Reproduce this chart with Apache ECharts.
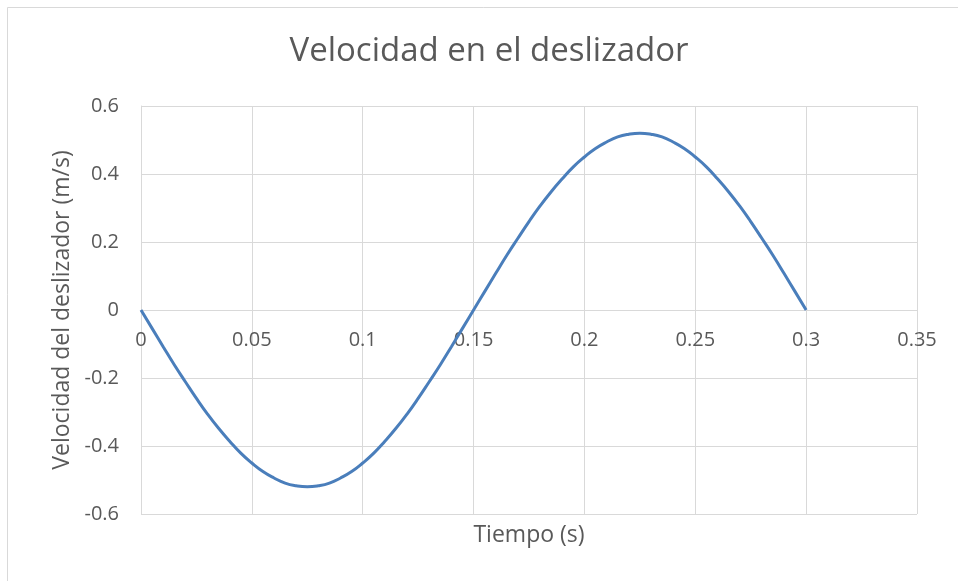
<!DOCTYPE html>
<html>
<head>
<meta charset="utf-8">
<script src="https://cdn.jsdelivr.net/npm/echarts@6/dist/echarts.min.js"></script>
<style>
  html, body { margin: 0; padding: 0; background: #fff; }
  #chart { width: 958px; height: 581px; }
</style>
</head>
<body>
<div id="chart"></div>
<script>
// Time samples (s)
const tiempo = [
  0, 0.005, 0.01, 0.015, 0.02, 0.025, 0.03, 0.035, 0.04, 0.045, 0.05, 0.055, 0.06, 0.065, 0.07, 0.075,
  0.08, 0.085, 0.09, 0.095, 0.10, 0.105, 0.11, 0.115, 0.12, 0.125, 0.13, 0.135, 0.14, 0.145, 0.15,
  0.155, 0.16, 0.165, 0.17, 0.175, 0.18, 0.185, 0.19, 0.195, 0.20, 0.205, 0.21, 0.215, 0.22, 0.225,
  0.23, 0.235, 0.24, 0.245, 0.25, 0.255, 0.26, 0.265, 0.27, 0.275, 0.28, 0.285, 0.29, 0.295, 0.30
];
// Slider velocity (m/s)
const velocidad = [
  0, -0.054, -0.108, -0.161, -0.211, -0.26, -0.306, -0.348, -0.386, -0.421, -0.45, -0.475, -0.494, -0.509, -0.517, -0.52,
  -0.517, -0.509, -0.494, -0.475, -0.45, -0.421, -0.386, -0.348, -0.306, -0.26, -0.211, -0.161, -0.108, -0.054, 0,
  0.054, 0.108, 0.161, 0.211, 0.26, 0.306, 0.348, 0.386, 0.421, 0.45, 0.475, 0.494, 0.509, 0.517, 0.52,
  0.517, 0.509, 0.494, 0.475, 0.45, 0.421, 0.386, 0.348, 0.306, 0.26, 0.211, 0.161, 0.108, 0.054, 0
];

const xTicks = { min: 0, max: 0.35, interval: 0.05 };
const yTicks = { min: -0.6, max: 0.6, interval: 0.2 };

const titulo = 'Velocidad en el deslizador';
const nombreX = 'Tiempo (s)';
const nombreY = 'Velocidad del deslizador (m/s)';

const FONT = '"Open Sans", sans-serif';
const TEXT = '#595959';
const GRID = '#d9d9d9';

const GRID_TOP = 106, GRID_BOTTOM = 67, CHART_H = 581;

const chart = echarts.init(document.getElementById('chart'), null, { renderer: 'canvas' });

// distance (px) from the bottom of the plot up to the y = 0 line
const plotH = CHART_H - GRID_TOP - GRID_BOTTOM;
const zeroLift = plotH * (0 - yTicks.min) / (yTicks.max - yTicks.min);

chart.setOption({
  backgroundColor: '#ffffff',
  animation: false,
  graphic: [
    { type: 'rect', silent: true, z: -10,
      shape: { x: 7.5, y: 7.5, width: 1000, height: 1000 },
      style: { fill: 'none', stroke: GRID, lineWidth: 1 } },
    { type: 'text', silent: true, x: 489, y: 52,
      style: { text: titulo, fontFamily: FONT, fontSize: 33, fill: TEXT,
               align: 'center', verticalAlign: 'middle' } },
    { type: 'text', silent: true, x: 529, y: 535,
      style: { text: nombreX, fontFamily: FONT, fontSize: 23, fill: TEXT,
               align: 'center', verticalAlign: 'middle' } },
    { type: 'text', silent: true, x: 62, y: 310, rotation: Math.PI / 2,
      style: { text: nombreY, fontFamily: FONT, fontSize: 23, fill: TEXT,
               align: 'center', verticalAlign: 'middle' } }
  ],
  grid: { left: 141, right: 41, top: GRID_TOP, bottom: GRID_BOTTOM, containLabel: false },
  xAxis: {
    type: 'value',
    min: xTicks.min, max: xTicks.max, interval: xTicks.interval,
    position: 'bottom',
    offset: -zeroLift,
    axisLine: { show: true, onZero: false, lineStyle: { color: GRID, width: 1 } },
    axisTick: { show: false },
    axisLabel: { color: TEXT, fontFamily: FONT, fontSize: 20, margin: 20 },
    splitLine: { show: true, lineStyle: { color: GRID, width: 1 } }
  },
  yAxis: {
    type: 'value',
    min: yTicks.min, max: yTicks.max, interval: yTicks.interval,
    axisLine: { show: true, lineStyle: { color: GRID, width: 1 } },
    axisTick: { show: false },
    axisLabel: { color: TEXT, fontFamily: FONT, fontSize: 20, margin: 22,
                 formatter: v => String(Math.round(v * 10) / 10) },
    splitLine: { show: true, lineStyle: { color: GRID, width: 1 } }
  },
  series: [{
    type: 'line',
    data: tiempo.map((t, i) => [t, velocidad[i]]),
    smooth: true,
    showSymbol: false,
    lineStyle: { color: '#4a7ebb', width: 3 },
    z: 5
  }]
});
</script>
</body>
</html>
